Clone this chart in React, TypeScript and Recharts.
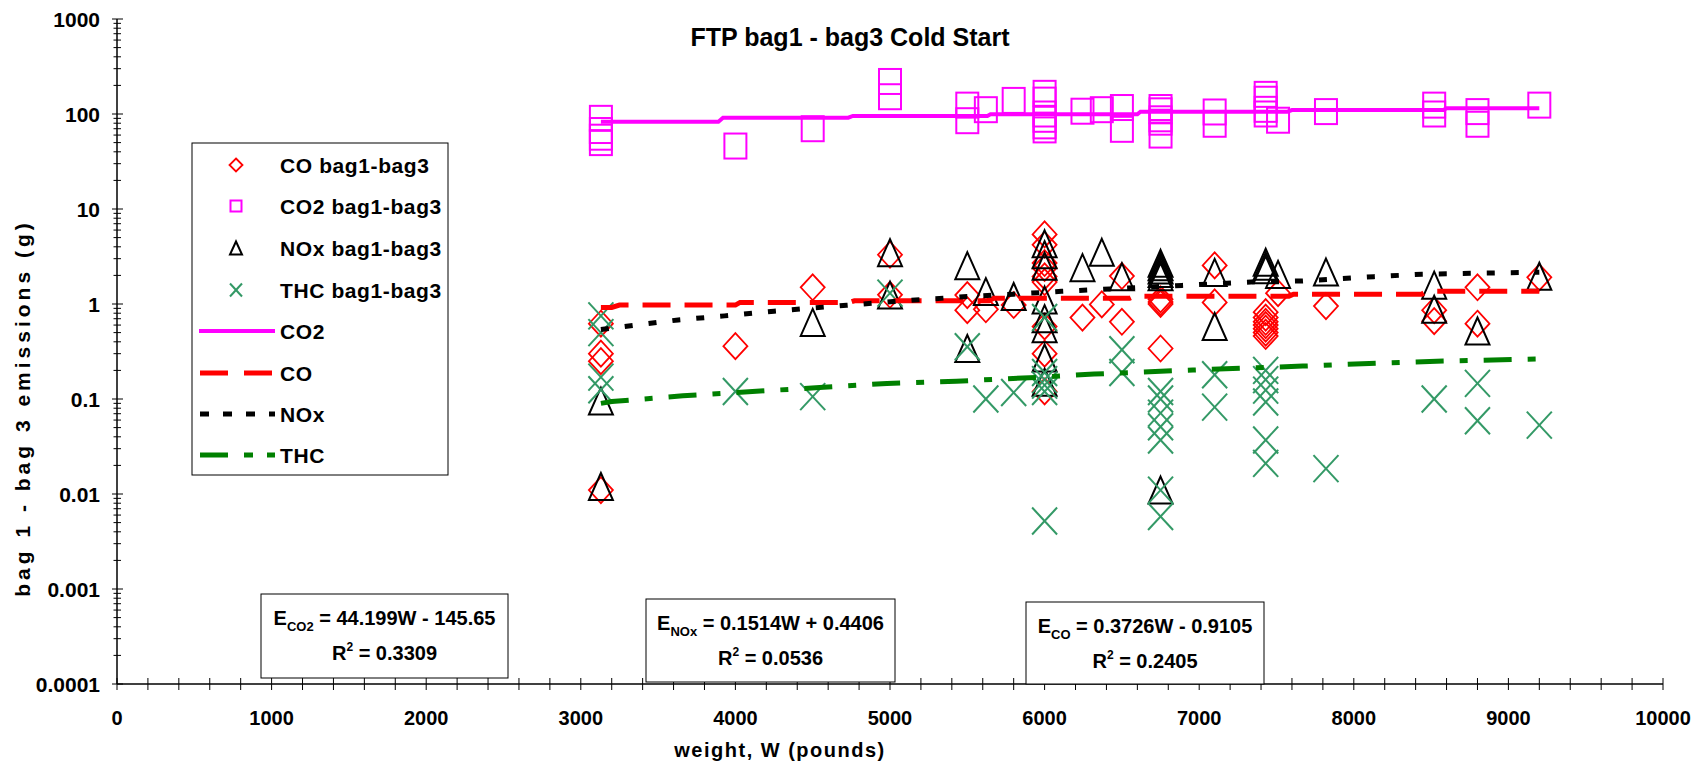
import { ScatterChart, Scatter, XAxis, YAxis } from "recharts";

// [weight W (lb), grams]
const coPoints: [number, number][] = [
  [3130, 0.62], [3130, 0.3], [3130, 0.25], [3130, 0.011],
  [4000, 0.36], [4500, 1.5], [5000, 3.3], [5000, 1.25],
  [5500, 1.24], [5500, 0.86], [5620, 0.88], [5800, 0.975],
  [6000, 5.4], [6000, 4.2], [6000, 2.7], [6000, 2.4], [6000, 1.95], [6000, 1.7], [6000, 0.58], [6000, 0.3], [6000, 0.12],
  [6245, 0.72], [6370, 0.99], [6500, 1.97], [6500, 0.65],
  [6750, 1.12], [6750, 1.05], [6750, 1.0], [6750, 0.34],
  [7100, 2.55], [7100, 1.04],
  [7430, 0.82], [7430, 0.72], [7430, 0.65], [7430, 0.6], [7430, 0.55], [7430, 0.5], [7430, 0.46],
  [7510, 1.3], [7820, 0.95], [8520, 0.86], [8520, 0.66], [8800, 1.5], [8800, 0.62], [9200, 1.91],
];

const co2Points: [number, number][] = [
  [3130, 90], [3130, 67], [3130, 57], [3130, 50],
  [4000, 46], [4500, 70], [5000, 220], [5000, 152],
  [5500, 124], [5500, 85], [5620, 111], [5800, 139],
  [6000, 165], [6000, 140], [6000, 100], [6000, 88], [6000, 75], [6000, 68],
  [6245, 107], [6370, 111], [6500, 117], [6500, 69],
  [6750, 117], [6750, 108], [6750, 89], [6750, 82], [6750, 60],
  [7100, 105], [7100, 78], [7430, 161], [7430, 143], [7430, 112], [7430, 100],
  [7510, 86], [7820, 106], [8520, 124], [8520, 100], [8800, 106], [8800, 78], [9200, 124],
];

const noxPoints: [number, number][] = [
  [3130, 0.095], [3130, 0.012], [4500, 0.64], [5000, 3.47], [5000, 1.24],
  [5500, 2.53], [5500, 0.34], [5620, 1.35], [5800, 1.2],
  [6000, 4.3], [6000, 3.3], [6000, 2.5], [6000, 1.1], [6000, 0.7], [6000, 0.55], [6000, 0.27], [6000, 0.15],
  [6245, 2.41], [6370, 3.5], [6500, 1.94],
  [6750, 2.68], [6750, 2.47], [6750, 2.28], [6750, 2.1], [6750, 1.94], [6750, 0.011],
  [7100, 2.15], [7100, 0.58], [7430, 2.75], [7430, 2.5], [7430, 2.3],
  [7510, 2.05], [7820, 2.17], [8520, 1.58], [8520, 0.88], [8800, 0.52], [9200, 1.96],
];

const thcPoints: [number, number][] = [
  [3130, 0.75], [3130, 0.5], [3130, 0.17], [3130, 0.125],
  [4000, 0.12], [4500, 0.106], [5000, 1.3], [5500, 0.355], [5620, 0.1], [5800, 0.117],
  [6000, 0.72], [6000, 0.19], [6000, 0.16], [6000, 0.14], [6000, 0.12], [6000, 0.0052],
  [6500, 0.33], [6500, 0.19],
  [6750, 0.12], [6750, 0.1], [6750, 0.071], [6750, 0.051], [6750, 0.037], [6750, 0.011], [6750, 0.0058],
  [7100, 0.18], [7100, 0.082],
  [7430, 0.2], [7430, 0.16], [7430, 0.124], [7430, 0.093], [7430, 0.037], [7430, 0.021],
  [7820, 0.0185], [8520, 0.1], [8800, 0.146], [8800, 0.059], [9200, 0.053],
];

const co2Trend: [number, number][] = [
  [3130, 83], [3890, 83], [3920, 91.4], [4730, 91.4], [4760, 95.3], [5630, 95.3], [5650, 99.3],
  [6600, 99.3], [6620, 105.8], [7570, 105.8], [7600, 110], [8580, 110], [8600, 115], [9200, 115],
];
const coTrend: [number, number][] = [
  [3130, 0.92], [3200, 0.92], [3250, 0.975], [4000, 0.975], [4030, 1.04], [4740, 1.04], [4770, 1.08],
  [5640, 1.08], [5670, 1.15], [6550, 1.15], [6580, 1.21], [7580, 1.21], [7610, 1.27], [8440, 1.27],
  [8470, 1.36], [9200, 1.36],
];
const noxTrend: [number, number][] = [
  [3130, 0.54], [3630, 0.68], [3930, 0.75], [4250, 0.84], [4720, 0.97], [5020, 1.06], [5500, 1.2],
  [5800, 1.27], [6110, 1.36], [6420, 1.44], [6890, 1.57], [7360, 1.71], [7670, 1.75], [8130, 1.94],
  [8440, 2.06], [9200, 2.16],
];
const thcTrend: [number, number][] = [
  [3130, 0.09], [3200, 0.094], [3660, 0.108], [4010, 0.117], [4570, 0.133], [4980, 0.146],
  [5430, 0.154], [5950, 0.169], [6320, 0.183], [6960, 0.202], [7670, 0.222], [8100, 0.237],
  [8580, 0.251], [9200, 0.264],
];

const xTicks: number[] = [];
for (let v = 0; v <= 10000; v += 200) xTicks.push(v);
const yTicks: number[] = [];
for (let e = -4; e <= 3; e++) {
  for (let m = 1; m <= 9; m++) {
    if (e === 3 && m > 1) break;
    yTicks.push(Number((m * Math.pow(10, e)).toPrecision(3)));
  }
}

const FONT = "'Liberation Sans', Arial, sans-serif";
const toXY = (arr: [number, number][]) => arr.map(([x, y]) => ({ x, y }));

const RED = "#FF0000";
const MAGENTA = "#FF00FF";
const SEA = "#339966";
const GREEN = "#008000";

function Diamond({ cx, cy, w = 12, h = 13 }: any) {
  return (
    <polygon
      points={`${cx},${cy - h} ${cx + w},${cy} ${cx},${cy + h} ${cx - w},${cy}`}
      fill="none" stroke={RED} strokeWidth={1.8}
    />
  );
}
function Square({ cx, cy, w = 11, h = 12.5 }: any) {
  return <rect x={cx - w} y={cy - h} width={2 * w} height={2 * h} fill="none" stroke={MAGENTA} strokeWidth={2} />;
}
function Triangle({ cx, cy, w = 12, h = 13.5 }: any) {
  return (
    <polygon
      points={`${cx},${cy - h} ${cx + w},${cy + h} ${cx - w},${cy + h}`}
      fill="none" stroke="#000" strokeWidth={2}
    />
  );
}
function Cross({ cx, cy, w = 12.5, h = 13.5 }: any) {
  return (
    <g stroke={SEA} strokeWidth={2}>
      <line x1={cx - w} y1={cy - h} x2={cx + w} y2={cy + h} />
      <line x1={cx - w} y1={cy + h} x2={cx + w} y2={cy - h} />
    </g>
  );
}

function XTick({ x, y, payload }: any) {
  const v = payload.value;
  const major = v % 1000 === 0;
  return (
    <g>
      <line x1={x} x2={x} y1={y - 6} y2={y + 6} stroke="#000" strokeWidth={1} />
      {major && (
        <text x={x} y={y + 34} textAnchor="middle" dominantBaseline="central"
          fontFamily={FONT} fontWeight="bold" fontSize={20} fill="#000">
          {v}
        </text>
      )}
    </g>
  );
}

function YTick({ x, y, payload }: any) {
  const v = payload.value;
  const lg = Math.log10(v);
  const major = Math.abs(lg - Math.round(lg)) < 1e-6;
  return (
    <g>
      <line x1={major ? x - 5 : x - 3.5} x2={major ? x + 6 : x + 4} y1={y} y2={y} stroke="#000" strokeWidth={1} />
      {major && (
        <text x={x - 17} y={y} textAnchor="end" dominantBaseline="central"
          fontFamily={FONT} fontWeight="bold" fontSize={21} fill="#000">
          {String(v)}
        </text>
      )}
    </g>
  );
}

const none = () => <g />;

function EqBox({ x, y, w, h, sub, rhs, r2 }: any) {
  const cx = x + w / 2;
  return (
    <g fontFamily={FONT} fontWeight="bold" fill="#000">
      <rect x={x} y={y} width={w} height={h} fill="#fff" stroke="#000" strokeWidth={1} />
      <text x={cx} y={y + 31} textAnchor="middle" fontSize={20}>
        E<tspan fontSize={13} dy={6}>{sub}</tspan>
        <tspan dy={-6}>{` = ${rhs}`}</tspan>
      </text>
      <text x={cx} y={y + 66} textAnchor="middle" fontSize={20}>
        R<tspan fontSize={12} dy={-9}>2</tspan>
        <tspan dy={9}>{` = ${r2}`}</tspan>
      </text>
    </g>
  );
}

function Overlay() {
  const rows = [165, 206, 248, 290, 331, 373, 414, 455];
  const tx = 280;
  const label = (y: number, t: string) => (
    <text x={tx} y={y + 7.5} fontFamily={FONT} fontWeight="bold" fontSize={21} letterSpacing={0.6} fill="#000">{t}</text>
  );
  return (
    <svg width={1708} height={766} style={{ position: "absolute", left: 0, top: 0, pointerEvents: "none" }}>
      <text x={850} y={46} textAnchor="middle" fontFamily={FONT} fontWeight="bold" fontSize={25} fill="#000">
        FTP bag1 - bag3 Cold Start
      </text>
      <text x={22} y={408} transform="rotate(-90 22 408)" textAnchor="middle" dominantBaseline="central"
        fontFamily={FONT} fontWeight="bold" fontSize={21} letterSpacing={4} fill="#000">
        bag 1 - bag 3 emissions (g)
      </text>
      <text x={780} y={750} textAnchor="middle" dominantBaseline="central"
        fontFamily={FONT} fontWeight="bold" fontSize={20} letterSpacing={1.5} fill="#000">
        weight, W (pounds)
      </text>

      <rect x={192} y={143} width={256} height={332} fill="#fff" stroke="#000" strokeWidth={1} />
      <Diamond cx={236} cy={rows[0]} w={6.5} h={6.5} />
      {label(rows[0], "CO bag1-bag3")}
      <Square cx={236} cy={rows[1]} w={5.5} h={5.5} />
      {label(rows[1], "CO2 bag1-bag3")}
      <Triangle cx={236} cy={rows[2]} w={6} h={6.5} />
      {label(rows[2], "NOx bag1-bag3")}
      <Cross cx={236} cy={rows[3]} w={6} h={6.5} />
      {label(rows[3], "THC bag1-bag3")}
      <line x1={199} x2={275} y1={rows[4]} y2={rows[4]} stroke={MAGENTA} strokeWidth={4} />
      {label(rows[4], "CO2")}
      <line x1={200} x2={275} y1={rows[5]} y2={rows[5]} stroke={RED} strokeWidth={5} strokeDasharray="28 16" />
      {label(rows[5], "CO")}
      <line x1={200} x2={275} y1={rows[6]} y2={rows[6]} stroke="#000" strokeWidth={5} strokeDasharray="9 14" />
      {label(rows[6], "NOx")}
      <line x1={200} x2={275} y1={rows[7]} y2={rows[7]} stroke={GREEN} strokeWidth={5} strokeDasharray="28 16 9 14" />
      {label(rows[7], "THC")}

      <EqBox x={261} y={594} w={247} h={84} sub="CO2" rhs="44.199W - 145.65" r2="0.3309" />
      <EqBox x={646} y={599} w={249} h={83} sub="NOx" rhs="0.1514W + 0.4406" r2="0.0536" />
      <EqBox x={1026} y={602} w={238} h={82} sub="CO" rhs="0.3726W - 0.9105" r2="0.2405" />
    </svg>
  );
}

export default function App() {
  return (
    <div style={{ position: "absolute", left: 0, top: 0, width: 1708, height: 766, background: "#fff" }}>
      <ScatterChart width={1708} height={766} margin={{ top: 19, right: 45, bottom: 42, left: 57 }}>
        <XAxis
          type="number" dataKey="x" domain={[0, 10000]} ticks={xTicks} interval={0}
          tickSize={0} tickMargin={0} tick={(p: any) => <XTick {...p} />} height={40}
          axisLine={{ stroke: "#000", strokeWidth: 1.5 }} allowDataOverflow
        />
        <YAxis
          type="number" dataKey="y" scale="log" domain={[0.0001, 1000]} ticks={yTicks} interval={0}
          tickSize={0} tickMargin={0} tick={(p: any) => <YTick {...p} />} width={60}
          axisLine={{ stroke: "#000", strokeWidth: 1.5 }} allowDataOverflow
        />
        <Scatter name="CO bag1-bag3" data={toXY(coPoints)} fill={RED} isAnimationActive={false}
          shape={(p: any) => <Diamond cx={p.cx} cy={p.cy} />} />
        <Scatter name="CO2 bag1-bag3" data={toXY(co2Points)} fill={MAGENTA} isAnimationActive={false}
          shape={(p: any) => <Square cx={p.cx} cy={p.cy} />} />
        <Scatter name="NOx bag1-bag3" data={toXY(noxPoints)} fill="#000" isAnimationActive={false}
          shape={(p: any) => <Triangle cx={p.cx} cy={p.cy} />} />
        <Scatter name="THC bag1-bag3" data={toXY(thcPoints)} fill={SEA} isAnimationActive={false}
          shape={(p: any) => <Cross cx={p.cx} cy={p.cy} />} />
        <Scatter name="CO2" data={toXY(co2Trend)} fill={MAGENTA} isAnimationActive={false} shape={none}
          line={{ stroke: MAGENTA, strokeWidth: 4 }} lineType="joint" />
        <Scatter name="CO" data={toXY(coTrend)} fill={RED} isAnimationActive={false} shape={none}
          line={{ stroke: RED, strokeWidth: 5, strokeDasharray: "28 14" }} lineType="joint" />
        <Scatter name="NOx" data={toXY(noxTrend)} fill="#000" isAnimationActive={false} shape={none}
          line={{ stroke: "#000", strokeWidth: 5, strokeDasharray: "8 16" }} lineType="joint" />
        <Scatter name="THC" data={toXY(thcTrend)} fill={GREEN} isAnimationActive={false} shape={none}
          line={{ stroke: GREEN, strokeWidth: 5, strokeDasharray: "28 16 8 16" }} lineType="joint" />
      </ScatterChart>
      <Overlay />
    </div>
  );
}
